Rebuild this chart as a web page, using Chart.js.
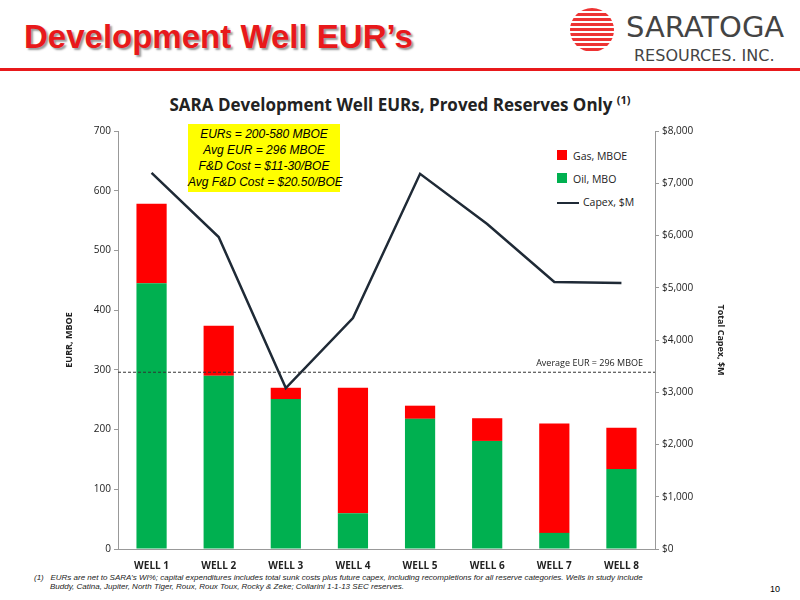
<!DOCTYPE html>
<html><head><meta charset="utf-8">
<script src="https://cdn.jsdelivr.net/npm/chart.js@4"></script>
<style>
body{margin:0;width:800px;height:600px;position:relative;background:#fff;font-family:"Open Sans",sans-serif;overflow:hidden}
.abs{position:absolute}
#c{position:absolute;left:0;top:0}
</style></head><body>
<div class="abs" style="left:24px;top:18px;font:bold 33px 'Liberation Sans',Arial;color:#e8191b;text-shadow:2px 2px 2px #999">Development Well EUR’s</div>
<div class="abs" style="left:0;top:68px;width:800px;height:3px;background:#e8191b"></div>
<div class="abs" style="left:570px;top:8px;width:44px;height:44px;border-radius:50%;background:repeating-linear-gradient(#e33 0 3px,#fff 3px 5px)"></div>
<div class="abs" style="left:626px;top:10px;font:29px 'DejaVu Sans';color:#444;letter-spacing:0px">SARATOGA</div>
<div class="abs" style="left:634px;top:46px;font:16px 'DejaVu Sans';color:#444;letter-spacing:0px">RESOURCES. INC.</div>
<div class="abs" style="left:0;top:92px;width:800px;text-align:center;font:bold 17px 'Open Sans';color:#222">SARA Development Well EURs, Proved Reserves Only <sup style="font-size:11px">(1)</sup></div>
<div class="abs" style="left:188px;top:124px;width:152px;padding:2px 0;background:#ffff00;text-align:center;font:italic 12px/16px 'Liberation Sans';color:#000;white-space:nowrap">EURs = 200-580 MBOE<br>Avg EUR = 296 MBOE<br>F&amp;D Cost = $11-30/BOE<br>Avg F&amp;D Cost = $20.50/BOE</div>
<div class="abs" style="left:557px;top:145px;font:10.5px 'Open Sans';line-height:23px;color:#222">
<div><span style="display:inline-block;width:10px;height:10px;background:#ff0000;margin-right:6px"></span>Gas, MBOE</div>
<div><span style="display:inline-block;width:10px;height:10px;background:#00b050;margin-right:6px"></span>Oil, MBO</div>
<div><span style="display:inline-block;width:22px;height:2px;background:#1f2a36;vertical-align:middle;margin-right:4px"></span>Capex, $M</div></div>
<div class="abs" style="left:34px;top:573px;width:700px;font:italic 8px 'Liberation Sans';color:#222">(1)&nbsp;&nbsp;&nbsp;EURs are net to SARA’s WI%; capital expenditures includes total sunk costs plus future capex, including recompletions for all reserve categories. Wells in study include<br><span style="padding-left:16px">Buddy, Catina, Jupiter, North Tiger,  Roux, Roux Toux, Rocky &amp; Zeke; Collarini 1-1-13 SEC reserves.</span></div>
<div class="abs" style="left:770px;top:584px;font:9px 'Liberation Sans'">10</div>
<canvas id="c" width="800" height="600"></canvas>
<script>
const wells=["WELL 1","WELL 2","WELL 3","WELL 4","WELL 5","WELL 6","WELL 7","WELL 8"];
const oil=[445,290,251,60,218,181,27,134];
const gas=[133,84,19,210,22,38,183,69];
const capex=[7200,5970,3080,4420,7180,6220,5110,5090];
const avgEur=296;
const f={family:"Open Sans",size:10};
const avgPlug={id:'avg',afterDatasetsDraw(ch){const {ctx,chartArea:a,scales:{y}}=ch;const py=y.getPixelForValue(avgEur);
ctx.save();ctx.setLineDash([3,2]);ctx.strokeStyle='#333';ctx.lineWidth=1;ctx.beginPath();ctx.moveTo(a.left,py);ctx.lineTo(a.right,py);ctx.stroke();
ctx.fillStyle='#222';ctx.font='9px Open Sans';ctx.textAlign='right';ctx.fillText('Average EUR = 296 MBOE',a.right-12,py-6);ctx.restore();}};
new Chart(document.getElementById('c'),{data:{labels:wells,datasets:[
{type:'line',data:capex,yAxisID:'y2',borderColor:'#1f2a36',borderWidth:2.5,pointRadius:0,tension:0,order:0},
{type:'bar',data:oil,backgroundColor:'#00b050',barPercentage:0.45,categoryPercentage:1,order:2},
{type:'bar',data:gas,backgroundColor:'#ff0000',barPercentage:0.45,categoryPercentage:1,order:2}]},
options:{responsive:false,animation:false,layout:{padding:{left:60,right:70,top:131,bottom:27}},
plugins:{legend:{display:false},tooltip:{enabled:false}},
scales:{x:{stacked:true,grid:{display:false},border:{color:'#999'},ticks:{font:{...f,weight:'bold'},color:'#222'},afterFit(s){s.height=24}},
y:{stacked:true,min:0,max:700,ticks:{stepSize:100,font:f,color:'#222'},grid:{drawOnChartArea:false,tickLength:4,color:'#999'},border:{color:'#999'},
title:{display:true,text:'EURR, MBOE',font:{...f,weight:'bold',size:9},color:'#222'},afterFit(s){s.width=58}},
y2:{position:'right',min:0,max:8000,ticks:{stepSize:1000,font:f,color:'#222',callback:v=>'$'+v.toLocaleString('en-US')},grid:{drawOnChartArea:false,tickLength:4,color:'#999'},border:{color:'#999'},
title:{display:true,text:'Total Capex, $M',font:{...f,weight:'bold',size:9},color:'#222'},afterFit(s){s.width=75}}}},
plugins:[avgPlug]});
</script></body></html>
